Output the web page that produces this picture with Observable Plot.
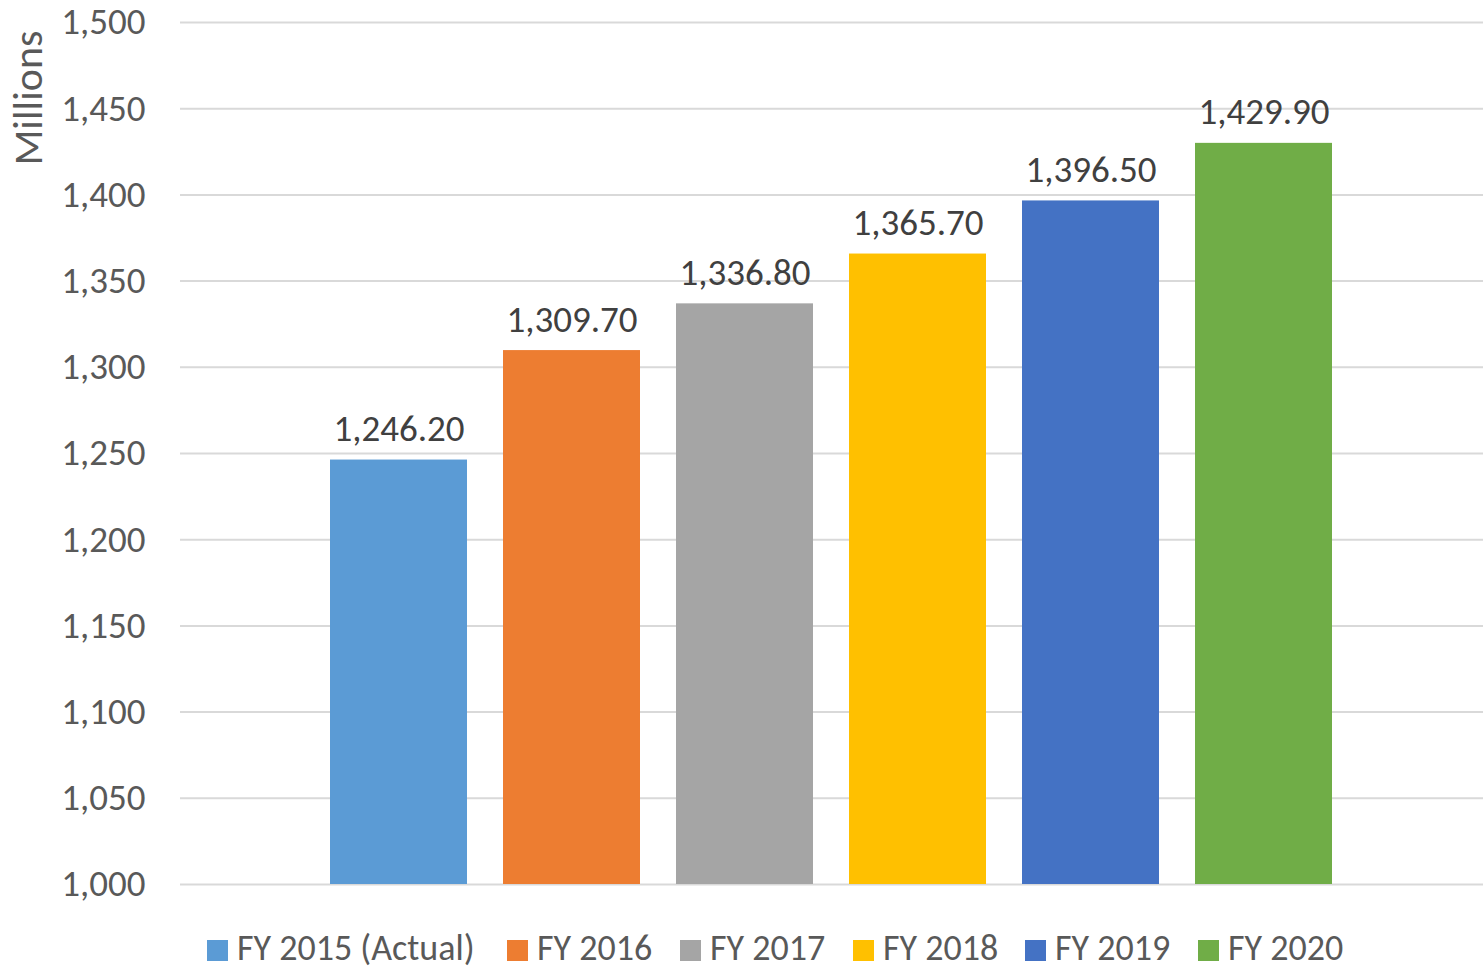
<!DOCTYPE html>
<html>
<head>
<meta charset="utf-8">
<script src="https://cdn.jsdelivr.net/npm/d3@7"></script>
<script src="https://cdn.jsdelivr.net/npm/@observablehq/plot@0.6"></script>
<style>
  html, body { margin: 0; padding: 0; background: #fff; }
  body { width: 1483px; height: 970px; overflow: hidden; font-family: Carlito, "Open Sans", sans-serif; }
  #legend { position: absolute; left: 0; top: 933px; width: 1483px; height: 30px; }
  .item { position: absolute; top: 0; height: 30px; line-height: 30px; display: flex; align-items: flex-start; color: #595959; font-size: 36px; white-space: nowrap; }
  .sw { width: 21px; height: 21px; margin-top: 7px; margin-right: 9px; flex: none; }
</style>
</head>
<body>
<div id="chart"></div>
<div id="legend"></div>
<script>
const categories = ["FY 2015 (Actual)", "FY 2016", "FY 2017", "FY 2018", "FY 2019", "FY 2020"];
const values = [1246.2, 1309.7, 1336.8, 1365.7, 1396.5, 1429.9];
const colors = ["#5B9BD5", "#ED7D31", "#A5A5A5", "#FFC000", "#4472C4", "#70AD47"];
const yTicks = [1000, 1050, 1100, 1150, 1200, 1250, 1300, 1350, 1400, 1450, 1500];
const yTitle = "Millions";
const legendX = [207, 507, 680, 853, 1025, 1198];

const data = categories.map((c, i) => ({cat: c, value: values[i]}));
const fmtTick = d3.format(",");
const fmtVal = d3.format(",.2f");
const font = "Carlito, 'Open Sans', sans-serif";

const plot = Plot.plot({
  width: 1483,
  height: 906,
  marginTop: 22,
  marginBottom: 22,
  marginLeft: 180,
  marginRight: 0,
  style: {fontFamily: font, background: "#fff"},
  x: {domain: categories, range: [311, 1351], paddingInner: 0.21, paddingOuter: 0.105, axis: null},
  y: {domain: [1000, 1500], ticks: yTicks, tickFormat: fmtTick, label: null},
  color: {domain: categories, range: colors},
  marks: [
    Plot.ruleY(yTicks, {stroke: "#d9d9d9", strokeWidth: 2}),
    Plot.axisY({ticks: yTicks, tickFormat: fmtTick, tickSize: 0, tickPadding: 35, fontSize: 37, fill: "#595959", label: null}),
    Plot.barY(data, {x: "cat", y1: 1000, y2: "value", fill: "cat"}),
    Plot.text(data, {x: "cat", y: "value", text: d => fmtVal(d.value), lineAnchor: "bottom", dy: -19, fontSize: 37, fill: "#404040"}),
    Plot.text([yTitle], {frameAnchor: "top-left", text: d => d, rotate: -90, textAnchor: "end", lineAnchor: "middle", dx: -152, dy: 8, fontSize: 42, fill: "#595959"})
  ]
});
document.getElementById("chart").appendChild(plot);

const legend = document.getElementById("legend");
categories.forEach((c, i) => {
  const item = document.createElement("div");
  item.className = "item";
  item.style.left = legendX[i] + "px";
  const sw = document.createElement("div");
  sw.className = "sw";
  sw.style.background = colors[i];
  const t = document.createElement("span");
  t.textContent = c;
  item.appendChild(sw);
  item.appendChild(t);
  legend.appendChild(item);
});
</script>
</body>
</html>
